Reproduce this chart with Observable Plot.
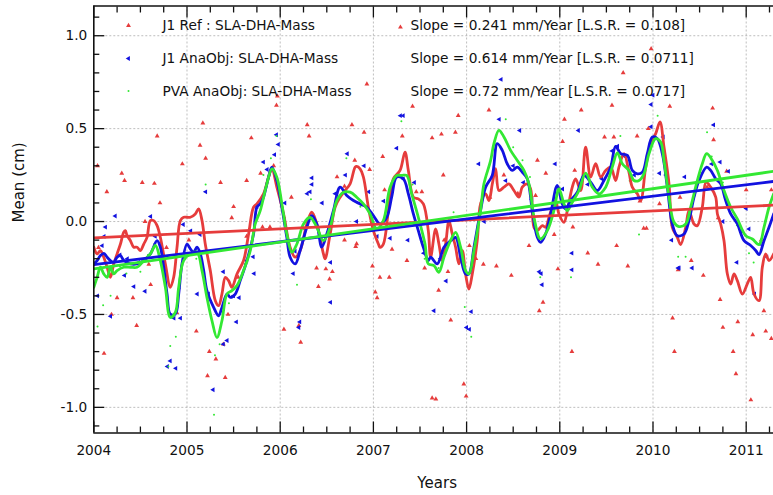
<!DOCTYPE html>
<html><head><meta charset="utf-8">
<script src="https://cdn.jsdelivr.net/npm/d3@7"></script>
<script src="https://cdn.jsdelivr.net/npm/@observablehq/plot@0.6"></script>
<style>html,body{margin:0;padding:0;background:#fff;} svg{display:block}</style>
</head><body><div id="chart"></div>
<script>
// ---- data (years, cm) ----
const redLine = [[2004.000,-0.138],[2004.036,-0.174],[2004.071,-0.156],[2004.107,-0.192],[2004.143,-0.246],[2004.179,-0.300],[2004.214,-0.228],[2004.250,-0.174],[2004.286,-0.121],[2004.321,-0.058],[2004.339,-0.049],[2004.357,-0.076],[2004.393,-0.103],[2004.429,-0.138],[2004.464,-0.138],[2004.500,-0.156],[2004.536,-0.121],[2004.571,-0.085],[2004.607,0.005],[2004.643,0.005],[2004.679,-0.022],[2004.714,-0.085],[2004.768,-0.228],[2004.821,-0.354],[2004.857,-0.300],[2004.893,-0.138],[2004.929,0.005],[2004.964,0.023],[2005.000,0.023],[2005.036,0.023],[2005.089,0.041],[2005.125,0.068],[2005.161,0.005],[2005.196,-0.121],[2005.250,-0.264],[2005.304,-0.426],[2005.339,-0.453],[2005.375,-0.390],[2005.411,-0.300],[2005.446,-0.318],[2005.482,-0.354],[2005.536,-0.282],[2005.607,-0.210],[2005.661,-0.067],[2005.714,0.077],[2005.750,0.095],[2005.821,0.149],[2005.875,0.239],[2005.911,0.284],[2005.964,0.185],[2006.036,0.041],[2006.107,-0.139],[2006.161,-0.192],[2006.214,-0.156],[2006.286,-0.013],[2006.339,0.050],[2006.393,-0.013],[2006.464,-0.174],[2006.482,-0.201],[2006.536,-0.067],[2006.589,0.077],[2006.643,0.131],[2006.696,0.167],[2006.750,0.203],[2006.804,0.293],[2006.821,0.297],[2006.857,0.284],[2006.893,0.239],[2006.946,0.077],[2007.000,-0.049],[2007.054,-0.121],[2007.071,-0.139],[2007.107,-0.121],[2007.161,0.059],[2007.214,0.230],[2007.286,0.275],[2007.339,0.374],[2007.375,0.275],[2007.429,0.131],[2007.482,0.122],[2007.536,0.095],[2007.589,-0.049],[2007.614,-0.192],[2007.668,-0.040],[2007.703,-0.121],[2007.739,-0.210],[2007.775,-0.121],[2007.811,0.005],[2007.846,-0.067],[2007.882,-0.138],[2007.918,-0.228],[2007.954,-0.156],[2007.989,-0.282],[2008.025,-0.363],[2008.061,-0.282],[2008.114,-0.103],[2008.150,0.095],[2008.204,0.149],[2008.240,0.113],[2008.276,0.203],[2008.311,0.284],[2008.347,0.167],[2008.401,0.185],[2008.454,0.203],[2008.508,0.167],[2008.562,0.131],[2008.597,0.185],[2008.651,0.203],[2008.687,0.176],[2008.723,-0.031],[2008.758,-0.049],[2008.812,-0.022],[2008.848,-0.031],[2008.884,0.023],[2008.919,0.077],[2008.955,0.113],[2008.991,0.041],[2009.045,-0.004],[2009.081,0.059],[2009.134,0.185],[2009.170,0.230],[2009.224,0.167],[2009.277,0.401],[2009.331,0.239],[2009.385,0.311],[2009.438,0.239],[2009.492,0.275],[2009.546,0.293],[2009.599,0.221],[2009.635,0.293],[2009.689,0.365],[2009.742,0.266],[2009.778,0.185],[2009.832,0.149],[2009.868,0.113],[2009.922,0.293],[2009.975,0.419],[2010.029,0.473],[2010.075,0.536],[2010.118,0.401],[2010.172,0.203],[2010.207,-0.031],[2010.261,-0.085],[2010.297,-0.124],[2010.351,-0.031],[2010.386,0.059],[2010.440,-0.013],[2010.476,-0.022],[2010.529,0.077],[2010.569,0.212],[2010.619,0.185],[2010.673,0.131],[2010.691,0.041],[2010.726,-0.013],[2010.762,-0.103],[2010.798,-0.282],[2010.834,-0.336],[2010.869,-0.282],[2010.905,-0.318],[2010.959,-0.390],[2011.012,-0.336],[2011.048,-0.300],[2011.084,-0.390],[2011.138,-0.426],[2011.173,-0.246],[2011.209,-0.174],[2011.245,-0.210],[2011.295,-0.174]];

const blueLine = [[2004.000,-0.228],[2004.036,-0.210],[2004.071,-0.183],[2004.107,-0.171],[2004.143,-0.192],[2004.179,-0.210],[2004.214,-0.219],[2004.250,-0.192],[2004.286,-0.183],[2004.321,-0.210],[2004.357,-0.219],[2004.393,-0.228],[2004.464,-0.228],[2004.536,-0.210],[2004.607,-0.174],[2004.679,-0.103],[2004.714,-0.138],[2004.750,-0.246],[2004.786,-0.390],[2004.821,-0.498],[2004.875,-0.498],[2004.911,-0.390],[2004.946,-0.228],[2005.000,-0.121],[2005.036,-0.147],[2005.071,-0.165],[2005.107,-0.138],[2005.143,-0.174],[2005.179,-0.264],[2005.214,-0.372],[2005.286,-0.462],[2005.339,-0.507],[2005.375,-0.462],[2005.429,-0.390],[2005.464,-0.408],[2005.518,-0.390],[2005.571,-0.318],[2005.643,-0.210],[2005.714,-0.067],[2005.750,0.077],[2005.786,0.095],[2005.821,0.131],[2005.875,0.239],[2005.911,0.293],[2005.964,0.221],[2006.018,0.077],[2006.071,-0.085],[2006.107,-0.192],[2006.161,-0.228],[2006.214,-0.156],[2006.286,-0.031],[2006.339,0.032],[2006.393,-0.013],[2006.446,-0.138],[2006.500,-0.067],[2006.571,0.059],[2006.643,0.185],[2006.714,0.140],[2006.786,0.113],[2006.857,0.095],[2006.929,0.077],[2007.000,0.032],[2007.071,-0.013],[2007.143,0.023],[2007.196,0.131],[2007.250,0.239],[2007.321,0.230],[2007.375,0.149],[2007.429,0.041],[2007.482,-0.049],[2007.536,-0.139],[2007.589,-0.210],[2007.614,-0.192],[2007.685,-0.228],[2007.757,-0.138],[2007.828,-0.103],[2007.882,-0.085],[2007.936,-0.192],[2007.989,-0.282],[2008.025,-0.282],[2008.079,-0.138],[2008.150,0.059],[2008.204,0.185],[2008.275,0.248],[2008.329,0.419],[2008.383,0.383],[2008.436,0.311],[2008.490,0.275],[2008.544,0.293],[2008.597,0.266],[2008.651,0.230],[2008.705,0.059],[2008.759,-0.085],[2008.794,-0.112],[2008.848,-0.067],[2008.902,0.041],[2008.973,0.194],[2009.027,0.095],[2009.063,0.068],[2009.116,0.113],[2009.188,0.158],[2009.259,0.248],[2009.331,0.212],[2009.403,0.167],[2009.474,0.221],[2009.546,0.293],[2009.599,0.405],[2009.653,0.365],[2009.725,0.356],[2009.778,0.275],[2009.832,0.257],[2009.886,0.266],[2009.939,0.365],[2009.993,0.455],[2010.047,0.446],[2010.100,0.365],[2010.154,0.185],[2010.207,-0.013],[2010.261,-0.076],[2010.333,-0.067],[2010.386,0.005],[2010.440,0.131],[2010.494,0.221],[2010.576,0.293],[2010.619,0.275],[2010.673,0.230],[2010.726,0.203],[2010.780,0.113],[2010.834,0.041],[2010.905,-0.013],[2010.977,-0.103],[2011.048,-0.129],[2011.102,-0.156],[2011.138,-0.178],[2011.191,-0.103],[2011.245,-0.031],[2011.295,0.041]];

const greenLine = [[2004.000,-0.354],[2004.036,-0.300],[2004.071,-0.246],[2004.107,-0.282],[2004.143,-0.300],[2004.179,-0.246],[2004.214,-0.282],[2004.250,-0.264],[2004.321,-0.246],[2004.393,-0.246],[2004.464,-0.246],[2004.536,-0.210],[2004.607,-0.174],[2004.661,-0.129],[2004.714,-0.210],[2004.768,-0.354],[2004.821,-0.516],[2004.875,-0.489],[2004.911,-0.354],[2004.964,-0.210],[2005.036,-0.174],[2005.107,-0.165],[2005.161,-0.264],[2005.214,-0.408],[2005.268,-0.534],[2005.321,-0.624],[2005.375,-0.534],[2005.429,-0.390],[2005.482,-0.372],[2005.536,-0.345],[2005.607,-0.264],[2005.679,-0.156],[2005.732,-0.013],[2005.786,0.059],[2005.857,0.203],[2005.911,0.284],[2005.964,0.239],[2006.018,0.095],[2006.071,-0.067],[2006.125,-0.165],[2006.179,-0.121],[2006.250,-0.013],[2006.321,0.023],[2006.393,-0.031],[2006.464,-0.103],[2006.536,-0.031],[2006.607,0.113],[2006.679,0.158],[2006.750,0.158],[2006.821,0.131],[2006.893,0.095],[2006.964,0.041],[2007.036,-0.040],[2007.107,0.005],[2007.179,0.185],[2007.250,0.248],[2007.304,0.248],[2007.357,0.248],[2007.411,0.149],[2007.482,0.023],[2007.554,-0.121],[2007.589,-0.228],[2007.650,-0.237],[2007.703,-0.273],[2007.757,-0.192],[2007.828,-0.103],[2007.882,-0.058],[2007.936,-0.138],[2007.989,-0.264],[2008.025,-0.282],[2008.079,-0.156],[2008.150,0.059],[2008.186,0.203],[2008.258,0.329],[2008.293,0.419],[2008.347,0.491],[2008.401,0.455],[2008.472,0.383],[2008.544,0.329],[2008.615,0.275],[2008.669,0.203],[2008.723,0.023],[2008.776,-0.085],[2008.794,-0.094],[2008.866,-0.049],[2008.937,0.059],[2008.991,0.176],[2009.045,0.095],[2009.081,0.059],[2009.134,0.104],[2009.206,0.167],[2009.277,0.261],[2009.349,0.185],[2009.420,0.149],[2009.492,0.185],[2009.563,0.293],[2009.617,0.369],[2009.671,0.311],[2009.742,0.275],[2009.796,0.221],[2009.850,0.221],[2009.903,0.257],[2009.957,0.365],[2010.029,0.446],[2010.082,0.428],[2010.118,0.329],[2010.172,0.131],[2010.225,-0.004],[2010.279,-0.027],[2010.351,-0.013],[2010.404,0.077],[2010.476,0.221],[2010.529,0.311],[2010.576,0.365],[2010.637,0.329],[2010.691,0.275],[2010.762,0.167],[2010.834,0.077],[2010.905,0.014],[2010.995,-0.076],[2011.066,-0.094],[2011.138,-0.124],[2011.191,-0.031],[2011.245,0.077],[2011.295,0.149]];

const redPts = [[2004.04,0.30],[2004.05,-0.14],[2004.11,-0.71],[2004.14,0.16],[2004.19,-0.50],[2004.25,-0.41],[2004.30,0.26],[2004.33,0.22],[2004.42,-0.41],[2004.46,-0.56],[2004.52,0.21],[2004.55,0.00],[2004.59,-0.23],[2004.61,-0.34],[2004.65,0.205],[2004.68,0.46],[2004.71,0.10],[2004.78,-0.14],[2004.89,-0.49],[2004.95,0.31],[2005.02,-0.10],[2005.10,-0.59],[2005.14,0.41],[2005.17,0.53],[2005.20,0.34],[2005.22,-0.83],[2005.24,-0.70],[2005.31,-0.74],[2005.36,0.21],[2005.39,-0.66],[2005.41,-0.84],[2005.44,-0.50],[2005.48,0.02],[2005.50,0.08],[2005.55,-0.30],[2005.64,0.22],[2005.64,-0.08],[2005.69,0.45],[2005.79,0.26],[2005.81,-0.03],[2005.89,-0.03],[2005.93,0.30],[2005.96,0.625],[2005.97,0.675],[2006.04,-0.58],[2006.12,0.13],[2006.20,-0.56],[2006.22,-0.65],[2006.29,0.52],[2006.31,0.46],[2006.39,-0.25],[2006.41,-0.35],[2006.49,-0.255],[2006.53,-0.31],[2006.56,-0.27],[2006.61,0.24],[2006.69,0.19],[2006.69,-0.10],[2006.77,0.52],[2006.80,0.33],[2006.81,-0.135],[2006.82,-0.12],[2006.90,0.48],[2006.93,0.74],[2006.96,0.28],[2006.99,-0.24],[2007.02,-0.38],[2007.04,-0.41],[2007.07,-0.30],[2007.10,0.35],[2007.12,0.17],[2007.17,-0.30],[2007.20,-0.15],[2007.29,1.046],[2007.31,0.46],[2007.36,-0.21],[2007.42,0.62],[2007.46,0.16],[2007.52,0.16],[2007.55,-0.25],[2007.63,0.45],[2007.63,-0.95],[2007.67,-0.955],[2007.70,-0.37],[2007.73,0.47],[2007.75,0.25],[2007.76,-0.10],[2007.80,-0.27],[2007.83,-0.53],[2007.88,0.48],[2007.91,0.57],[2007.97,-0.875],[2007.995,-0.94],[2008.03,-0.13],[2008.10,-0.20],[2008.18,-0.23],[2008.24,0.60],[2008.25,0.13],[2008.32,-0.24],[2008.40,0.25],[2008.48,-0.29],[2008.55,0.15],[2008.67,-0.13],[2008.74,0.14],[2008.76,0.33],[2008.78,-0.48],[2008.82,-0.435],[2008.85,0.26],[2008.94,-0.07],[2008.98,-0.255],[2009.03,0.43],[2009.05,0.55],[2009.14,-0.03],[2009.13,-0.70],[2009.16,0.275],[2009.23,0.60],[2009.30,-0.17],[2009.41,-0.23],[2009.48,0.455],[2009.56,0.625],[2009.58,0.455],[2009.61,-0.13],[2009.68,0.80],[2009.73,-0.24],[2009.83,0.46],[2009.86,0.11],[2009.90,-0.036],[2009.93,-0.036],[2009.95,0.50],[2009.98,0.93],[2010.07,0.095],[2010.18,0.62],[2010.21,-0.52],[2010.23,-0.70],[2010.27,-0.26],[2010.29,0.13],[2010.41,-0.21],[2010.54,-0.29],[2010.58,0.185],[2010.64,0.61],[2010.65,0.44],[2010.70,0.02],[2010.72,-0.42],[2010.75,-0.57],[2010.79,0.27],[2010.86,-0.70],[2010.89,-0.82],[2010.91,-0.54],[2011.00,0.17],[2011.05,-0.96],[2011.07,-0.61],[2011.16,-0.10],[2011.19,-0.48],[2011.21,-0.59],[2011.27,-0.63],[2011.27,0.17]];

const bluePts = [[2004.04,-0.40],[2004.09,-0.13],[2004.11,-0.08],[2004.125,-0.03],[2004.18,-0.51],[2004.23,0.03],[2004.28,-0.18],[2004.33,-0.29],[2004.36,-0.20],[2004.43,-0.35],[2004.48,-0.22],[2004.55,-0.375],[2004.61,0.027],[2004.66,-0.08],[2004.79,-0.78],[2004.82,-0.75],[2004.86,-0.52],[2004.88,-0.79],[2004.93,-0.52],[2004.96,-0.016],[2005.04,-0.05],[2005.14,-0.07],[2005.11,-0.39],[2005.20,0.16],[2005.23,-0.39],[2005.28,-0.905],[2005.39,-0.66],[2005.39,-0.27],[2005.43,-0.64],[2005.50,-0.40],[2005.53,-0.54],[2005.56,-0.41],[2005.64,-0.21],[2005.71,-0.19],[2005.72,-0.28],[2005.75,0.08],[2005.82,0.32],[2005.86,0.28],[2005.94,0.36],[2005.96,0.467],[2005.98,0.415],[2006.05,0.10],[2006.14,-0.28],[2006.16,-0.16],[2006.20,-0.57],[2006.21,-0.54],[2006.29,0.15],[2006.32,0.16],[2006.34,0.20],[2006.34,0.235],[2006.45,0.10],[2006.54,-0.22],[2006.54,-0.435],[2006.59,0.15],[2006.70,0.25],[2006.72,0.365],[2006.82,0.0],[2006.90,0.30],[2006.95,0.16],[2007.04,-0.08],[2007.11,0.11],[2007.18,-0.09],[2007.25,0.395],[2007.29,0.57],[2007.32,0.57],[2007.32,0.23],[2007.37,-0.10],[2007.44,0.21],[2007.54,-0.17],[2007.65,-0.48],[2007.72,-0.20],[2007.78,-0.32],[2007.86,-0.10],[2008.00,-0.57],[2008.03,-0.58],[2008.05,-0.485],[2008.13,0.31],[2008.19,0.0],[2008.35,0.55],[2008.37,0.765],[2008.42,0.22],[2008.50,0.30],[2008.57,0.49],[2008.61,0.21],[2008.70,0.12],[2008.78,-0.27],[2008.80,-0.28],[2008.81,-0.34],[2008.95,0.31],[2009.03,0.175],[2009.13,-0.17],[2009.13,-0.26],[2009.20,0.49],[2009.30,0.20],[2009.45,0.23],[2009.56,0.38],[2009.62,0.405],[2009.70,0.35],[2009.80,0.25],[2009.98,0.51],[2009.98,0.63],[2010.00,0.68],[2010.07,0.26],[2010.11,0.455],[2010.14,0.25],[2010.20,-0.10],[2010.27,-0.25],[2010.28,-0.25],[2010.34,0.24],[2010.42,-0.25],[2010.63,0.31],[2010.65,0.52],[2010.72,0.32],[2010.75,0.0],[2010.81,0.27],[2010.90,-0.22],[2010.95,-0.05],[2011.00,0.07],[2011.03,-0.04],[2011.09,-0.39],[2011.15,-0.12],[2011.22,-0.19]];

const greenPts = [[2004.04,-0.565],[2004.10,-0.45],[2004.18,-0.40],[2004.20,-0.27],[2004.28,-0.24],[2004.35,-0.28],[2004.50,-0.27],[2004.58,-0.18],[2004.65,-0.12],[2004.80,-0.78],[2004.82,-0.67],[2004.88,-0.62],[2004.92,-0.36],[2005.02,-0.18],[2005.10,-0.20],[2005.20,0.20],[2005.29,-1.04],[2005.30,-0.72],[2005.35,-0.66],[2005.45,-0.44],[2005.55,-0.34],[2005.62,-0.23],[2005.72,-0.05],[2005.82,0.25],[2005.90,0.34],[2005.96,0.46],[2006.05,0.02],[2006.18,-0.34],[2006.25,-0.04],[2006.33,0.12],[2006.45,-0.15],[2006.58,0.08],[2006.71,0.34],[2006.78,0.15],[2006.86,0.08],[2007.02,-0.07],[2007.15,0.02],[2007.27,0.26],[2007.30,0.54],[2007.42,0.20],[2007.55,-0.20],[2007.70,-0.25],[2007.86,0.05],[2007.90,-0.17],[2007.98,-0.46],[2008.05,-0.62],[2008.15,0.10],[2008.30,0.42],[2008.42,0.55],[2008.50,0.40],[2008.60,0.33],[2008.68,0.24],[2008.79,-0.30],[2008.90,0.02],[2009.00,0.18],[2009.12,-0.30],[2009.20,0.12],[2009.30,0.25],[2009.45,0.20],[2009.55,0.31],[2009.65,0.46],[2009.75,0.22],[2009.85,-0.07],[2010.05,0.57],[2010.10,0.42],[2010.20,-0.02],[2010.27,-0.19],[2010.35,-0.19],[2010.50,0.25],[2010.58,0.48],[2010.63,0.35],[2010.75,0.21],[2010.90,-0.02],[2011.03,-0.17],[2011.08,-0.22],[2011.20,0.00]];

// linear trends at the two ends of the period
const trendYears = [2004.0, 2011.293];
const redTrend = [-0.088, 0.088];
const blueTrend = [-0.232, 0.216];
const greenTrend = [-0.255, 0.270];

const seriesNames = ["J1 Ref : SLA-DHA-Mass", "J1 AnaObj: SLA-DHA-Mass", "PVA AnaObj: SLA-DHA-Mass"];
const slopeTexts = ["Slope = 0.241 mm/Year [L.S.R. = 0.108]", "Slope = 0.614 mm/Year [L.S.R. = 0.0711]", "Slope = 0.72 mm/Year [L.S.R. = 0.0717]"];

const xMajor = [2004, 2005, 2006, 2007, 2008, 2009, 2010, 2011];
const xMinor = d3.range(2004, 2011.3, 0.25).filter(v => Math.abs(v - Math.round(v)) > 1e-6);
const yMajor = [-1.0, -0.5, 0.0, 0.5, 1.0];
const yMinor = d3.range(-11, 12, 1).map(v => v / 10).filter(v => Math.abs(v * 2 - Math.round(v * 2)) > 1e-6);

const xDomain = [2004, 2011.293];
const yDomain = [-1.138, 1.16];

const RED = "#e63c3c", BLUE = "#1212e0", GREEN = "#33e833";
const INK = "#111";
const FS = 13.7;
const trend = (vals) => trendYears.map((t, i) => [t, vals[i]]);
const X = d => d[0], Y = d => d[1];
const legendText = (s, dx, dy) => Plot.text([s], {frameAnchor: "top-left", dx, dy, text: d => d, textAnchor: "start", lineAnchor: "middle", fontSize: FS, fill: INK});

const plot = Plot.plot({
  width: 773, height: 495,
  marginLeft: 93.3, marginRight: 0, marginTop: 5.5, marginBottom: 62.5,
  style: {fontFamily: "DejaVu Sans", fontSize: FS + "px", color: INK, background: "#fff"},
  x: {domain: xDomain},
  y: {domain: yDomain},
  marks: [
    Plot.gridX(xMajor.slice(1), {stroke: "#999", strokeOpacity: 0.8, strokeDasharray: "2,2", strokeWidth: 0.8}),
    Plot.gridY(yMajor, {stroke: "#999", strokeOpacity: 0.8, strokeDasharray: "2,2", strokeWidth: 0.8}),
    Plot.dot(redPts, {x: X, y: Y, symbol: "triangle", r: 1.8, fill: RED, stroke: "none", clip: true}),
    Plot.dot(bluePts, {x: X, y: Y, symbol: "triangle", rotate: -90, r: 1.8, fill: BLUE, stroke: "none", clip: true}),
    Plot.dot(greenPts, {x: X, y: Y, r: 1, fill: GREEN, stroke: "none", clip: true}),
    Plot.line(redLine, {x: X, y: Y, stroke: RED, strokeWidth: 2.8, curve: "catmull-rom", clip: true}),
    Plot.line(blueLine, {x: X, y: Y, stroke: BLUE, strokeWidth: 2.8, curve: "catmull-rom", clip: true}),
    Plot.line(greenLine, {x: X, y: Y, stroke: GREEN, strokeWidth: 2.8, curve: "catmull-rom", clip: true}),
    Plot.line(trend(redTrend), {x: X, y: Y, stroke: RED, strokeWidth: 2.8, clip: true}),
    Plot.line(trend(blueTrend), {x: X, y: Y, stroke: BLUE, strokeWidth: 2.8, clip: true}),
    Plot.line(trend(greenTrend), {x: X, y: Y, stroke: GREEN, strokeWidth: 2.8, clip: true}),
    // frame (top, left, bottom)
    Plot.ruleY([yDomain[1]], {stroke: INK, strokeWidth: 1.6}),
    Plot.ruleY([yDomain[0]], {stroke: INK, strokeWidth: 1.6}),
    Plot.ruleX([xDomain[0]], {stroke: INK, strokeWidth: 1.6}),
    // inward ticks
    Plot.axisX(xMajor, {anchor: "bottom", tickSize: -11, fill: "none", label: null, strokeWidth: 1.3, stroke: INK}),
    Plot.axisX(xMinor, {anchor: "bottom", tickSize: -6, fill: "none", label: null, strokeWidth: 1.3, stroke: INK}),
    Plot.axisX(xMajor, {anchor: "top", tickSize: -11, fill: "none", label: null, strokeWidth: 1.3, stroke: INK}),
    Plot.axisX(xMinor, {anchor: "top", tickSize: -6, fill: "none", label: null, strokeWidth: 1.3, stroke: INK}),
    Plot.axisY(yMajor, {anchor: "left", tickSize: -11, fill: "none", label: null, strokeWidth: 1.3, stroke: INK}),
    Plot.axisY(yMinor, {anchor: "left", tickSize: -6, fill: "none", label: null, strokeWidth: 1.3, stroke: INK}),
    // tick labels
    Plot.axisX(xMajor, {anchor: "bottom", tickSize: 0, tickPadding: 12.5, tickFormat: d => String(d), label: null, fill: INK, fontSize: FS}),
    Plot.axisY(yMajor, {anchor: "left", tickSize: 0, tickPadding: 6.5, tickFormat: d => d.toFixed(1), label: null, fill: INK, fontSize: FS}),
    // axis titles
    Plot.text(["Years"], {frameAnchor: "bottom", dx: 3.5, dy: 50.5, lineAnchor: "middle", text: d => d, fontSize: 15, fill: INK}),
    Plot.text(["Mean (cm)"], {frameAnchor: "left", dx: -74.3, dy: 3, lineAnchor: "middle", rotate: -90, text: d => d, fontSize: 15, fill: INK}),
    // in-plot legend
    Plot.dot([0], {frameAnchor: "top-left", dx: 34.7, dy: 19.5, symbol: "triangle", r: 1.8, fill: RED, stroke: "none"}),
    Plot.dot([0], {frameAnchor: "top-left", dx: 34.7, dy: 52.5, symbol: "triangle", rotate: -90, r: 1.8, fill: BLUE, stroke: "none"}),
    Plot.dot([0], {frameAnchor: "top-left", dx: 34.7, dy: 85, r: 1, fill: GREEN, stroke: "none"}),
    legendText(seriesNames[0], 68.7, 20),
    legendText(seriesNames[1], 68.7, 53),
    legendText(seriesNames[2], 68.7, 85.5),
    legendText(slopeTexts[0], 316.7, 20),
    legendText(slopeTexts[1], 316.7, 53),
    legendText(slopeTexts[2], 316.7, 85.5)
  ]
});
document.getElementById("chart").appendChild(plot);
</script>
</body></html>
